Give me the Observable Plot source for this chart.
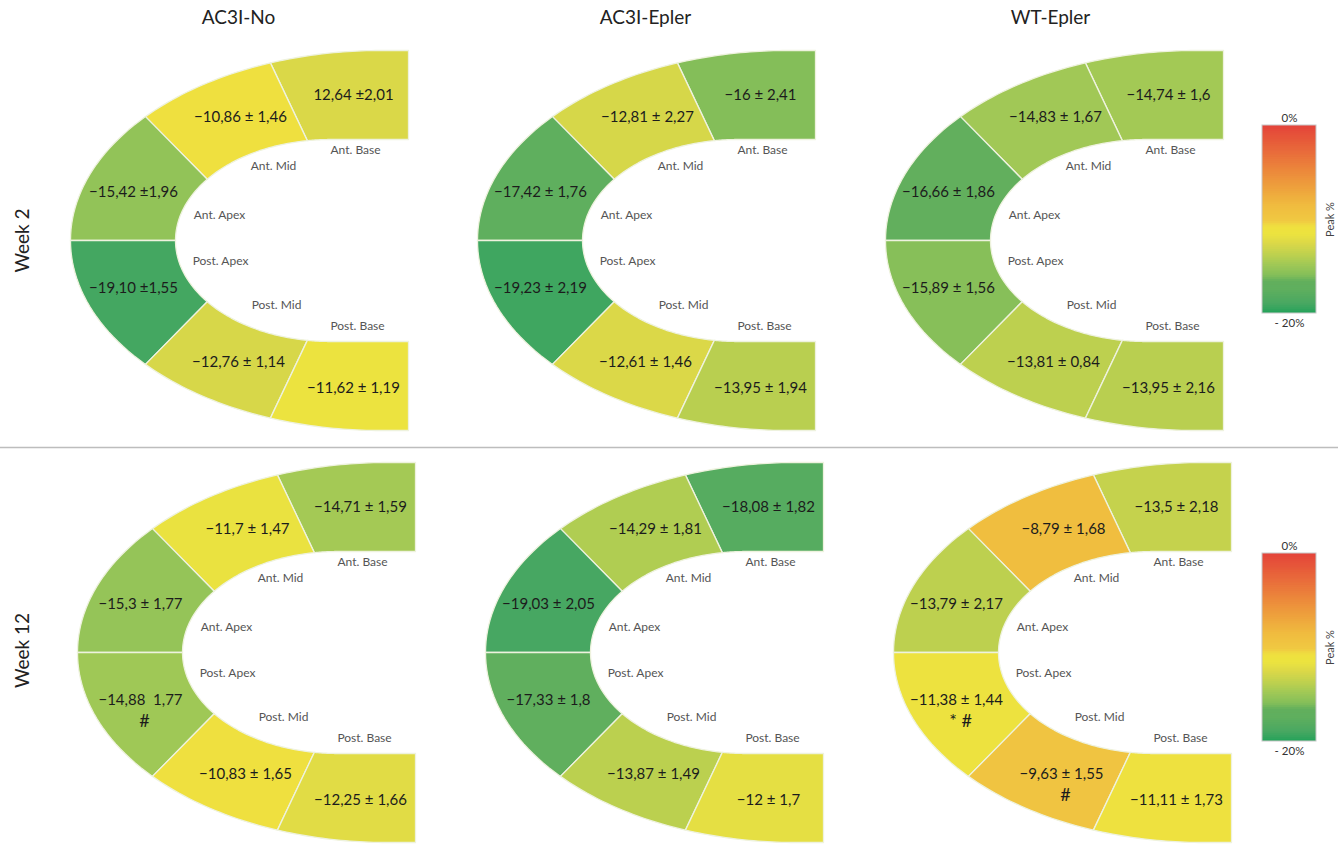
<!DOCTYPE html>
<html><head><meta charset="utf-8">
<script src="https://cdn.jsdelivr.net/npm/d3@7"></script>
<script src="https://cdn.jsdelivr.net/npm/@observablehq/plot@0.6"></script>
<style>
body{margin:0;background:#fff;font-family:Lato,"Open Sans",sans-serif;}
#wrap{position:relative;width:1343px;height:844px;overflow:hidden;}
#wrap > *{position:absolute;}
</style></head><body><div id="wrap"></div>
<script>
// ---------- data ----------
const groups = ["AC3I-No", "AC3I-Epler", "WT-Epler"];
const weeks = ["Week 2", "Week 12"];
const segments = ["Ant. Base", "Ant. Mid", "Ant. Apex", "Post. Apex", "Post. Mid", "Post. Base"];

// mean peak strain (%) per segment, in the order of `segments`
const week2Means = [
  [-12.64, -10.86, -15.42, -19.10, -12.76, -11.62],
  [-16, -12.81, -17.42, -19.23, -12.61, -13.95],
  [-14.74, -14.83, -16.66, -15.89, -13.81, -13.95]
];
const week12Means = [
  [-14.71, -11.7, -15.3, -14.88, -10.83, -12.25],
  [-18.08, -14.29, -19.03, -17.33, -13.87, -12],
  [-13.5, -8.79, -13.79, -11.38, -9.63, -11.11]
];
// labels as printed (mean ± SD)
const week2Labels = [
  ["12,64 ±2,01", "−10,86 ± 1,46", "−15,42 ±1,96", "−19,10 ±1,55", "−12,76 ± 1,14", "−11,62 ± 1,19"],
  ["−16 ± 2,41", "−12,81 ± 2,27", "−17,42 ± 1,76", "−19,23 ± 2,19", "−12,61 ± 1,46", "−13,95 ± 1,94"],
  ["−14,74 ± 1,6", "−14,83 ± 1,67", "−16,66 ± 1,86", "−15,89 ± 1,56", "−13,81 ± 0,84", "−13,95 ± 2,16"]
];
const week12Labels = [
  ["−14,71 ± 1,59", "−11,7 ± 1,47", "−15,3 ± 1,77", "−14,88  1,77", "−10,83 ± 1,65", "−12,25 ± 1,66"],
  ["−18,08 ± 1,82", "−14,29 ± 1,81", "−19,03 ± 2,05", "−17,33 ± 1,8", "−13,87 ± 1,49", "−12 ± 1,7"],
  ["−13,5 ± 2,18", "−8,79 ± 1,68", "−13,79 ± 2,17", "−11,38 ± 1,44", "−9,63 ± 1,55", "−11,11 ± 1,73"]
];
// significance marks: week index, group index, segment index, text
const sigWeek = [1, 1, 1];
const sigGroup = [0, 2, 2];
const sigSegment = [3, 3, 4];
const sigText = ["#", "* #", "#"];

// colour scale (Peak %)
const legendTicks = ["0%", "- 20%"];
const colorDomain = [-20, -19, -17.5, -16.6, -16, -15, -14, -12.6, -11.6, -10.8, -10.2, -8.6, -5, 0];
const colorRange = ["#23a35a", "#48a762", "#5faf5e", "#62af5d", "#84be59", "#9cc757", "#b8cf50",
                    "#dbd848", "#ece33f", "#efe03f", "#f0c942", "#f0bc3f", "#ec8a3b", "#e4433a"];

// ---------- layout (geometry of the horseshoe) ----------
const panelLeft = [[70, 477, 885], [77, 485, 893]];
const panelCy = [240, 652];
const colCenter = [238, 645, 1050];
const rowCenter = [240, 650];
const OUT = {cx: 310, rx: 310, ry: 190};
const IN = {cx: 260, rx: 155, ry: 101};
const RIGHT = 338;
const outerB = [0, 40.7, 69.2, 90];
const innerB = [0, 37.3, 81.4, 90];
const valuePos = [[283, -145], [170, -123], [63, -48], [63, 48], [168, 122], [283, 148]];
const regionPos = [[285, -90], [203, -74], [149, -25], [150, 21], [206, 65], [287, 86]];

const rad = Math.PI / 180;
function segmentPolygon(si) {
  const s = si < 3 ? -1 : 1;              // anterior (upper) or posterior (lower)
  const k = si < 3 ? 2 - si : si - 3;     // 0 apex, 1 mid, 2 base
  const pts = [];
  const n = 24;
  const o0 = outerB[k], o1 = outerB[k + 1];
  for (let j = 0; j <= n; j++) {
    const a = (o0 + (o1 - o0) * j / n) * rad;
    pts.push([OUT.cx - OUT.rx * Math.cos(a), s * OUT.ry * Math.sin(a)]);
  }
  if (k === 2) {
    pts.push([RIGHT, s * OUT.ry]);
    pts.push([RIGHT, s * IN.ry]);
  }
  const i0 = innerB[k], i1 = innerB[k + 1];
  for (let j = n; j >= 0; j--) {
    const a = (i0 + (i1 - i0) * j / n) * rad;
    pts.push([IN.cx - IN.rx * Math.cos(a), s * IN.ry * Math.sin(a)]);
  }
  pts.push(pts[0]);
  return pts;
}

const polys = [], values = [], regions = [], sigs = [];
[week2Means, week12Means].forEach((means, wi) => {
  const labels = wi === 0 ? week2Labels : week12Labels;
  groups.forEach((g, gi) => {
    const ox = panelLeft[wi][gi], oy = panelCy[wi];
    segments.forEach((seg, si) => {
      const key = `${wi}-${gi}-${si}`;
      for (const [px, py] of segmentPolygon(si)) {
        polys.push({key, x: ox + px, y: oy + py, value: means[gi][si]});
      }
      values.push({x: ox + valuePos[si][0], y: oy + valuePos[si][1], text: labels[gi][si]});
      regions.push({x: ox + regionPos[si][0], y: oy + regionPos[si][1], text: seg});
    });
  });
});
sigText.forEach((t, i) => {
  const wi = sigWeek[i], gi = sigGroup[i], si = sigSegment[i];
  sigs.push({x: panelLeft[wi][gi] + valuePos[si][0] + 4, y: panelCy[wi] + valuePos[si][1] + 21, text: t});
});

const colorScale = {type: "linear", domain: colorDomain, range: colorRange, interpolate: "rgb"};
const font = "Lato, 'Open Sans', sans-serif";

const main = Plot.plot({
  width: 1343, height: 844, margin: 0,
  x: {domain: [0, 1343], range: [0, 1343], axis: null},
  y: {domain: [0, 844], range: [0, 844], axis: null},
  color: colorScale,
  style: {fontFamily: font, background: "transparent", overflow: "visible"},
  marks: [
    Plot.line(polys, {x: "x", y: "y", z: "key", fill: "value", stroke: "#eef2de", strokeWidth: 1.3, strokeLinejoin: "round"}),
    Plot.text(values, {x: "x", y: "y", text: "text", fontSize: 15, fill: "#1c1c1c"}),
    Plot.text(regions, {x: "x", y: "y", text: "text", fontSize: 12, fill: "#555"}),
    Plot.text(sigs, {x: "x", y: "y", text: "text", fontSize: 18, fill: "#1c1c1c"}),
    Plot.text(groups, {x: (d, i) => colCenter[i], y: () => 17, text: d => d, fontSize: 19, fill: "#222"}),
    Plot.text(weeks, {x: () => 22, y: (d, i) => rowCenter[i], text: d => d, fontSize: 19, fill: "#222", rotate: -90}),
    Plot.ruleY([447], {x1: 0, x2: 1338, stroke: "#bdbdbd", strokeWidth: 1.5})
  ]
});
main.style.left = "0px"; main.style.top = "0px";
document.getElementById("wrap").appendChild(main);

// vertical colour bars (one per row)
const steps = d3.range(-20, 0, 0.2);
[100, 528].forEach(top => {
  const leg = Plot.plot({
    width: 100, height: 240, margin: 0,
    x: {domain: [0, 1], range: [22, 76], axis: null},
    y: {domain: [-20, 0], range: [213, 25], axis: null},
    color: colorScale,
    style: {fontFamily: font, background: "transparent", overflow: "visible"},
    marks: [
      Plot.rect(steps, {x1: () => 0, x2: () => 1, y1: d => d, y2: d => Math.min(0, d + 0.3), fill: d => d + 0.1}),
      Plot.rect([0], {x1: () => 0, x2: () => 1, y1: () => -20, y2: () => 0, fill: "none", stroke: "#c8c8c8", strokeWidth: 1}),
      Plot.text([legendTicks[0]], {x: () => 0.5, y: () => 0, dy: -7, text: d => d, fontSize: 11.5, fill: "#333"}),
      Plot.text([legendTicks[1]], {x: () => 0.5, y: () => -20, dy: 10, text: d => d, fontSize: 11.5, fill: "#333"}),
      Plot.text(["Peak %"], {x: () => 1.26, y: () => -10, text: d => d, fontSize: 11, fill: "#444", rotate: -90})
    ]
  });
  leg.style.left = "1240px"; leg.style.top = top + "px";
  document.getElementById("wrap").appendChild(leg);
});
</script>
</body></html>
